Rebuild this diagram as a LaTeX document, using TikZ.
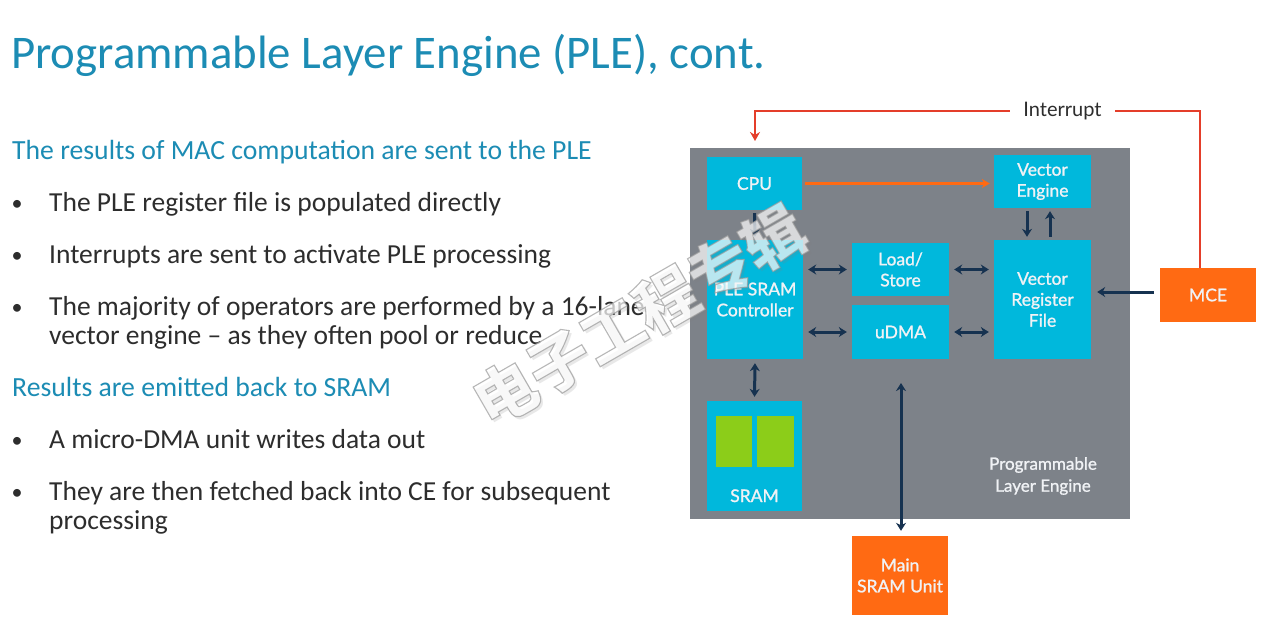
\documentclass[tikz,border=0pt]{standalone}
\usepackage{fontspec}
\setmainfont{Carlito}
\newfontfamily\lato[FakeBold=1.2]{Lato}
\newfontfamily\latoplain{Lato}
\newfontfamily\cjk{Noto Sans CJK SC}
\usetikzlibrary{arrows.meta}
\definecolor{titleblue}{RGB}{28,140,180}
\definecolor{bodytext}{RGB}{45,45,45}
\definecolor{boxcyan}{RGB}{0,184,220}
\definecolor{plegray}{RGB}{125,130,137}
\definecolor{mceorange}{RGB}{255,106,19}
\definecolor{intred}{RGB}{228,62,42}
\definecolor{navy}{RGB}{22,50,80}
\definecolor{sramgreen}{RGB}{140,205,25}
\definecolor{labelwhite}{RGB}{240,242,245}
\begin{document}
\begin{tikzpicture}[x=1pt,y=-1pt,
  blk/.style={fill=boxcyan, text=labelwhite, inner sep=0pt, align=center,
    font=\lato\fontsize{17.5}{21}\selectfont},
  orangeblk/.style={blk, fill=mceorange},
  darr/.style={draw=navy, line width=3pt, -{Stealth[length=8pt,width=10pt]}},
  dblarr/.style={draw=navy, line width=3pt, {Stealth[length=8pt,width=10pt]}-{Stealth[length=8pt,width=10pt]}},
  redline/.style={draw=intred, line width=2.8pt},
  subhead/.style={anchor=base west, inner sep=0pt, text=titleblue, font=\fontsize{27.7}{30}\selectfont},
  bullettext/.style={anchor=base west, inner sep=0pt, text=bodytext, align=left, font=\fontsize{27.5}{29}\selectfont},
  bulletdot/.style={anchor=base, inner sep=0pt, text=bodytext, font=\fontsize{22}{29}\selectfont},
  wmark/.style={rotate=30, inner sep=0pt, font=\cjk\bfseries\fontsize{62}{62}\selectfont}
]
\useasboundingbox (0,0) rectangle (1268,632);
\fill[white] (0,0) rectangle (1268,632);

% title
\node[anchor=base west, inner sep=0pt, text=titleblue, font=\fontsize{46.8}{56}\selectfont] (title) at (11,68) {Programmable Layer Engine (PLE), cont.};

% left text
\node[subhead] (s1) at (12,159) {The results of MAC computation are sent to the PLE};
\node[bulletdot] (d1) at (17,210) {\textbullet};
\node[bullettext] (t1) at (49,211) {The PLE register file is populated directly};
\node[bulletdot] (d2) at (17,262) {\textbullet};
\node[bullettext] (t2) at (49,263) {Interrupts are sent to activate PLE processing};
\node[bulletdot] (d3) at (17,314) {\textbullet};
\node[bullettext] (t3) at (49,315) {The majority of operators are performed by a 16-lane};
\node[bullettext] (t3b) at (49,344) {vector engine -- as they often pool or reduce};
\node[subhead] (s2) at (12,396) {Results are emitted back to SRAM};
\node[bulletdot] (d4) at (17,447) {\textbullet};
\node[bullettext] (t4) at (49,448) {A micro-DMA unit writes data out};
\node[bulletdot] (d5) at (17,499) {\textbullet};
\node[bullettext] (t5) at (49,500) {They are then fetched back into CE for subsequent};
\node[bullettext] (t5b) at (49,529) {processing};

% diagram
\node[fill=plegray, minimum width=440pt, minimum height=371pt, inner sep=0pt] (ple) at (910,333.5) {};
\node[blk, minimum width=95pt, minimum height=53pt] (cpu) at (754.5,183.5) {CPU};
\node[blk, minimum width=97pt, minimum height=53pt] (ve) at (1042.5,181.5) {Vector\\Engine};
\node[blk, minimum width=96pt, minimum height=119pt] (ctrl) at (755,299.5) {PLE SRAM\\Controller};
\node[blk, minimum width=97pt, minimum height=53pt] (ls) at (900.5,269.5) {Load/\\Store};
\node[blk, minimum width=97pt, minimum height=54pt] (dma) at (900.5,332) {uDMA};
\node[blk, minimum width=97pt, minimum height=119pt] (vrf) at (1042.5,299.5) {Vector\\Register\\File};
\node[blk, minimum width=95pt, minimum height=110pt] (sram) at (754.5,456) {};
\node[fill=sramgreen, minimum width=36pt, minimum height=51pt, inner sep=0pt] (g1) at (734,441.5) {};
\node[fill=sramgreen, minimum width=37pt, minimum height=51pt, inner sep=0pt] (g2) at (775.5,441.5) {};
\node[anchor=base, inner sep=0pt, text=labelwhite, font=\lato\fontsize{17.5}{21}\selectfont] (sramlbl) at (754.5,502) {SRAM};
\node[orangeblk, minimum width=96pt, minimum height=54pt] (mce) at (1208,295) {MCE};
\node[orangeblk, minimum width=96pt, minimum height=79pt] (main) at (900,575.5) {Main\\SRAM Unit};
\node[align=center, inner sep=0pt, text=labelwhite, font=\lato\fontsize{17}{22}\selectfont] (plelbl) at (1043,476) {Programmable\\Layer Engine};

% interrupt
\node[inner sep=0pt, minimum width=105pt, minimum height=20pt, text=bodytext, font=\latoplain\fontsize{20}{22}\selectfont] (intr) at (1062.5,111) {Interrupt};
\coordinate (mcetop) at (1200,268);
\coordinate (cpuin) at (755,141);
\draw[redline] (mcetop) |- (intr.east);
\draw[redline, -{Stealth[length=9pt,width=10pt]}] (intr.west) -| (cpuin);

% connectors
\draw[draw=mceorange, line width=2.6pt, -{Stealth[length=8pt,width=9pt]}, shorten <=3pt, shorten >=4pt] (cpu.east) -- (cpu.east -| ve.west);
\draw[darr, shorten <=3pt, shorten >=3pt] (cpu.south) -- (ctrl.north);
\draw[darr, shorten <=3pt, shorten >=3pt] ([xshift=-15.5pt]ve.south) -- ([xshift=-15.5pt]vrf.north);
\draw[darr, shorten <=3pt, shorten >=3pt] ([xshift=7.5pt]vrf.north) -- ([xshift=7.5pt]ve.south);
\draw[dblarr, shorten <=5pt, shorten >=5pt] (ctrl.east |- ls.west) -- (ls.west);
\draw[dblarr, shorten <=5pt, shorten >=5pt] (ls.east) -- (vrf.west |- ls.east);
\draw[dblarr, shorten <=5pt, shorten >=5pt] (ctrl.east |- dma.west) -- (dma.west);
\draw[dblarr, shorten <=5pt, shorten >=5pt] (dma.east) -- (vrf.west |- dma.east);
\draw[darr, shorten <=6pt, shorten >=6pt] ([yshift=3pt]mce.west) -- ([yshift=3pt]vrf.east |- mce.west);
\draw[dblarr, shorten <=4pt, shorten >=4pt] (ctrl.south) -- (sram.north);
\coordinate (dmaup) at (901,383);
\draw[dblarr, shorten >=5pt] (dmaup) -- (dmaup |- main.north);

% watermark
\node[wmark, text=gray, opacity=0.18] (wmshadow) at (642,318) {电子工程专辑};
\node[wmark, text=white, opacity=0.7] (wm) at (639,315) {\special{pdf:literal direct 2 Tr 1.1 w 0.6 G}电子工程专辑\special{pdf:literal direct 0 Tr}};
\end{tikzpicture}
\end{document}
